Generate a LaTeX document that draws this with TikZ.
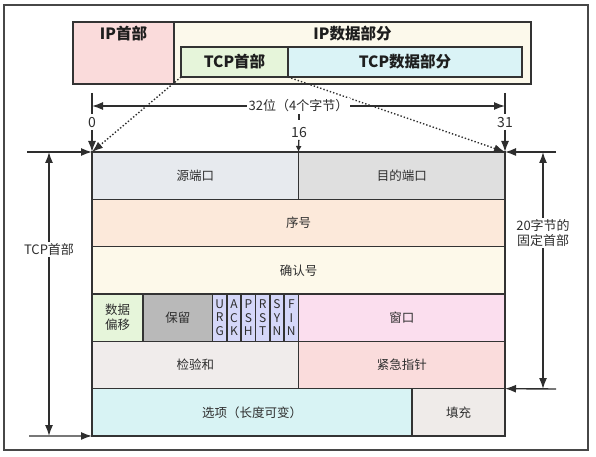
\documentclass[tikz,border=0pt]{standalone}
\usepackage{fontspec}
\newfontfamily\cjk{Noto Sans CJK SC}
\usetikzlibrary{arrows.meta}
\definecolor{boxline}{HTML}{333333}
\definecolor{txt}{HTML}{2E2E2E}
\definecolor{hdrtxt}{HTML}{1E1E1E}
\definecolor{cSrc}{HTML}{E7EAEE}
\definecolor{cDst}{HTML}{DFDFDF}
\definecolor{cSeq}{HTML}{FCE9DA}
\definecolor{cAck}{HTML}{FDF9EA}
\definecolor{cOff}{HTML}{E6F5DA}
\definecolor{cRsv}{HTML}{B9B9B9}
\definecolor{cFlag}{HTML}{D5D7F9}
\definecolor{cWin}{HTML}{FBDEEE}
\definecolor{cChk}{HTML}{F0ECEB}
\definecolor{cUrg}{HTML}{FADCDC}
\definecolor{cOpt}{HTML}{D8F3F4}
\definecolor{cPad}{HTML}{EFEBE9}
\definecolor{cIph}{HTML}{FADBDB}
\definecolor{cIpd}{HTML}{FCF9EB}
\definecolor{cTcph}{HTML}{E6F5DA}
\definecolor{cTcpd}{HTML}{DAF3F6}
\tikzset{
  box/.style = {draw=boxline, line width=1.5pt, inner sep=0pt, outer sep=0pt,
    anchor=north west, text=txt, font=\cjk\fontsize{12.5}{15}\selectfont},% table cell
  row/.style = {box, minimum height=47.33pt},
  hdr/.style = {text=hdrtxt, font=\cjk\bfseries\fontsize{15.5}{18}\selectfont},% bold headline
  flag/.style = {row, fill=cFlag, minimum width=14.33pt, align=center,
    font=\cjk\fontsize{12}{13.5}\selectfont},% one flag bit
  dim/.style = {draw=txt, line width=1.4pt},
  dimarrow/.style = {dim, -{Latex[length=11pt,width=8pt]}},
  dimboth/.style = {dim, {Latex[length=11pt,width=8pt]}-{Latex[length=11pt,width=8pt]}},
  dimlabel/.style = {fill=white, inner sep=1.5pt, text=txt, align=center,
    font=\cjk\fontsize{13}{15}\selectfont},
  zoomline/.style = {draw=txt, dotted, line width=1.4pt, -{Latex[length=11pt,width=8pt]}}
}

\begin{document}
\begin{tikzpicture}[x=1pt, y=-1pt]
  \useasboundingbox (0,0) rectangle (596,457);
  \draw[draw=boxline!90, line width=1.5pt] (4,5) rectangle (588,450);

  \node[box, fill=cIph, minimum width=101pt, minimum height=62pt,
    label={[hdr, anchor=north, yshift=-1pt]north:IP首部}] (iph) at (73,22) {};
  \node[box, fill=cIpd, minimum width=357pt, minimum height=62pt,
    label={[hdr, anchor=north, yshift=-1pt]north:IP数据部分}] (ipd) at (iph.north east) {};
  \node[box, hdr, fill=cTcph, minimum width=107pt, minimum height=30pt] (tcph) at (181,47) {TCP首部};
  \node[box, hdr, fill=cTcpd, minimum width=234pt, minimum height=30pt] (tcpd) at (tcph.north east) {TCP数据部分};

  \node[row, fill=cSrc, minimum width=206.5pt] (src) at (92,152) {源端口};
  \node[row, fill=cDst, minimum width=206.5pt] (dst) at (src.north east) {目的端口};
  \node[row, fill=cSeq, minimum width=413pt] (seq) at (src.south west) {序号};
  \node[row, fill=cAck, minimum width=413pt] (acknum) at (seq.south west) {确认号};
  \node[row, fill=cOff, minimum width=51pt, align=center] (off) at (acknum.south west) {数据\\偏移};
  \node[row, fill=cRsv, minimum width=69.5pt] (rsv) at (off.north east) {保留};
  \foreach \a/\b/\c [count=\i] in {U/R/G, A/C/K, P/S/H, R/S/T, S/Y/N, F/I/N}
    \node[flag] (fl\i) at ({212.5+14.33*(\i-1)},{152+3*47.33}) {\a\\\b\\\c};
  \node[row, fill=cWin, minimum width=206.5pt, anchor=north east] (win) at (acknum.south east) {窗口};
  \node[row, fill=cChk, minimum width=206.5pt] (chk) at (off.south west) {检验和};
  \node[row, fill=cUrg, minimum width=206.5pt] (urg) at (chk.north east) {紧急指针};
  \node[row, fill=cOpt, minimum width=320pt] (opt) at (chk.south west) {选项（长度可变）};
  \node[row, fill=cPad, minimum width=93pt] (pad) at (opt.north east) {填充};

  \draw[zoomline] (tcph.south west) -- (src.north west);
  \draw[zoomline] (tcph.south east) -- (dst.north east);

  \coordinate (t0a) at (92,93);
  \coordinate (t0b) at (92,114);
  \coordinate (t31a) at (505,93);
  \coordinate (t31b) at (505,114);
  \coordinate (w0) at (92,106);
  \coordinate (w31) at (505,106);
  \coordinate (t16a) at (299,112);
  \coordinate (t16b) at (299,120);
  \draw[dim] (t0a) -- (t0b);
  \draw[dim] (t31a) -- (t31b);
  \draw[dim] (t16a) -- (t16b);
  \draw[dimboth] (w0) -- node[dimlabel] {32位（4个字节）} (w31);
  \node[dimlabel, font=\cjk\fontsize{14}{16}\selectfont] (n0) at (92,123) {0};
  \node[dimlabel, font=\cjk\fontsize{14}{16}\selectfont] (n31) at (505,123) {31};
  \node[dimlabel, font=\cjk\fontsize{14}{16}\selectfont] (n16) at (299,133) {16};
  \draw[dimarrow] (n0) -- (src.north west);
  \draw[dimarrow] (n31) -- (dst.north east);
  \draw[dim, -{Latex[length=6pt,width=6pt]}] (n16) -- (src.north east);

  \coordinate (lt) at (27,152);
  \coordinate (lb) at (29,436);
  \coordinate (lva) at (49,152);
  \coordinate (lvb) at (49,436);
  \draw[dimarrow] (lt) -- (src.north west);
  \draw[dimarrow] (lb) -- (opt.south west);
  \draw[dimboth] (lva) -- node[dimlabel, pos=0.345] {TCP首部} (lvb);

  \coordinate (rt) at (556,152);
  \coordinate (rb) at (556,389);
  \coordinate (rva) at (543,152);
  \coordinate (rvb) at (543,389);
  \draw[dimarrow] (rt) -- (dst.north east);
  \draw[dimarrow] (rb) -- (urg.south east);
  \draw[dimboth] (rva) -- node[dimlabel, pos=0.34] {20字节的\\固定首部} (rvb);
\end{tikzpicture}
\end{document}
